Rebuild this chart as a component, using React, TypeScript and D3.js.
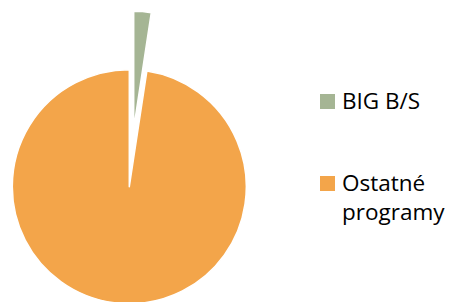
import React from "react";
import * as d3 from "d3";

const categories = ["BIG B/S", "Ostatné programy"];
const values = [2.4, 97.6];
const colors = ["#A5B594", "#F3A54A"];
const explode = [0.5, 0];

const W = 451;
const H = 302;
const cx = 129.3;
const cy = 186.7;
const R = 117;

export default function App() {
  const pie = d3
    .pie<number>()
    .sort(null)
    .value((d) => d)
    .startAngle(0)
    .endAngle(2 * Math.PI);
  const arcs = pie(values);
  const arc = d3.arc<d3.PieArcDatum<number>>().innerRadius(0).outerRadius(R);

  return (
    <svg
      width={W}
      height={H}
      style={{ position: "absolute", left: 0, top: 0 }}
      fontFamily="'Open Sans', sans-serif"
    >
      <rect width={W} height={H} fill="#fff" />
      <g transform={`translate(${cx},${cy})`}>
        {arcs.map((a, i) => {
          const mid = (a.startAngle + a.endAngle) / 2;
          const off = explode[i] * R;
          const dx = Math.sin(mid) * off;
          const dy = -Math.cos(mid) * off;
          return (
            <path
              key={i}
              d={arc(a) || ""}
              transform={`translate(${dx},${dy})`}
              fill={colors[i]}
              stroke="#fff"
              strokeWidth={1.5}
              strokeLinejoin="round"
            />
          );
        })}
      </g>
      <g>
        <rect x={320} y={94} width={15} height={15} fill={colors[0]} />
        <text x={342} y={109} fontSize={22.5} fill="#000">
          {categories[0]}
        </text>
        <rect x={320} y={176} width={15} height={15} fill={colors[1]} />
        <text x={342} y={191} fontSize={22.5} fill="#000">
          <tspan x={342}>{categories[1].split(" ")[0]}</tspan>
          <tspan x={342} dy={29}>{categories[1].split(" ")[1]}</tspan>
        </text>
      </g>
    </svg>
  );
}
